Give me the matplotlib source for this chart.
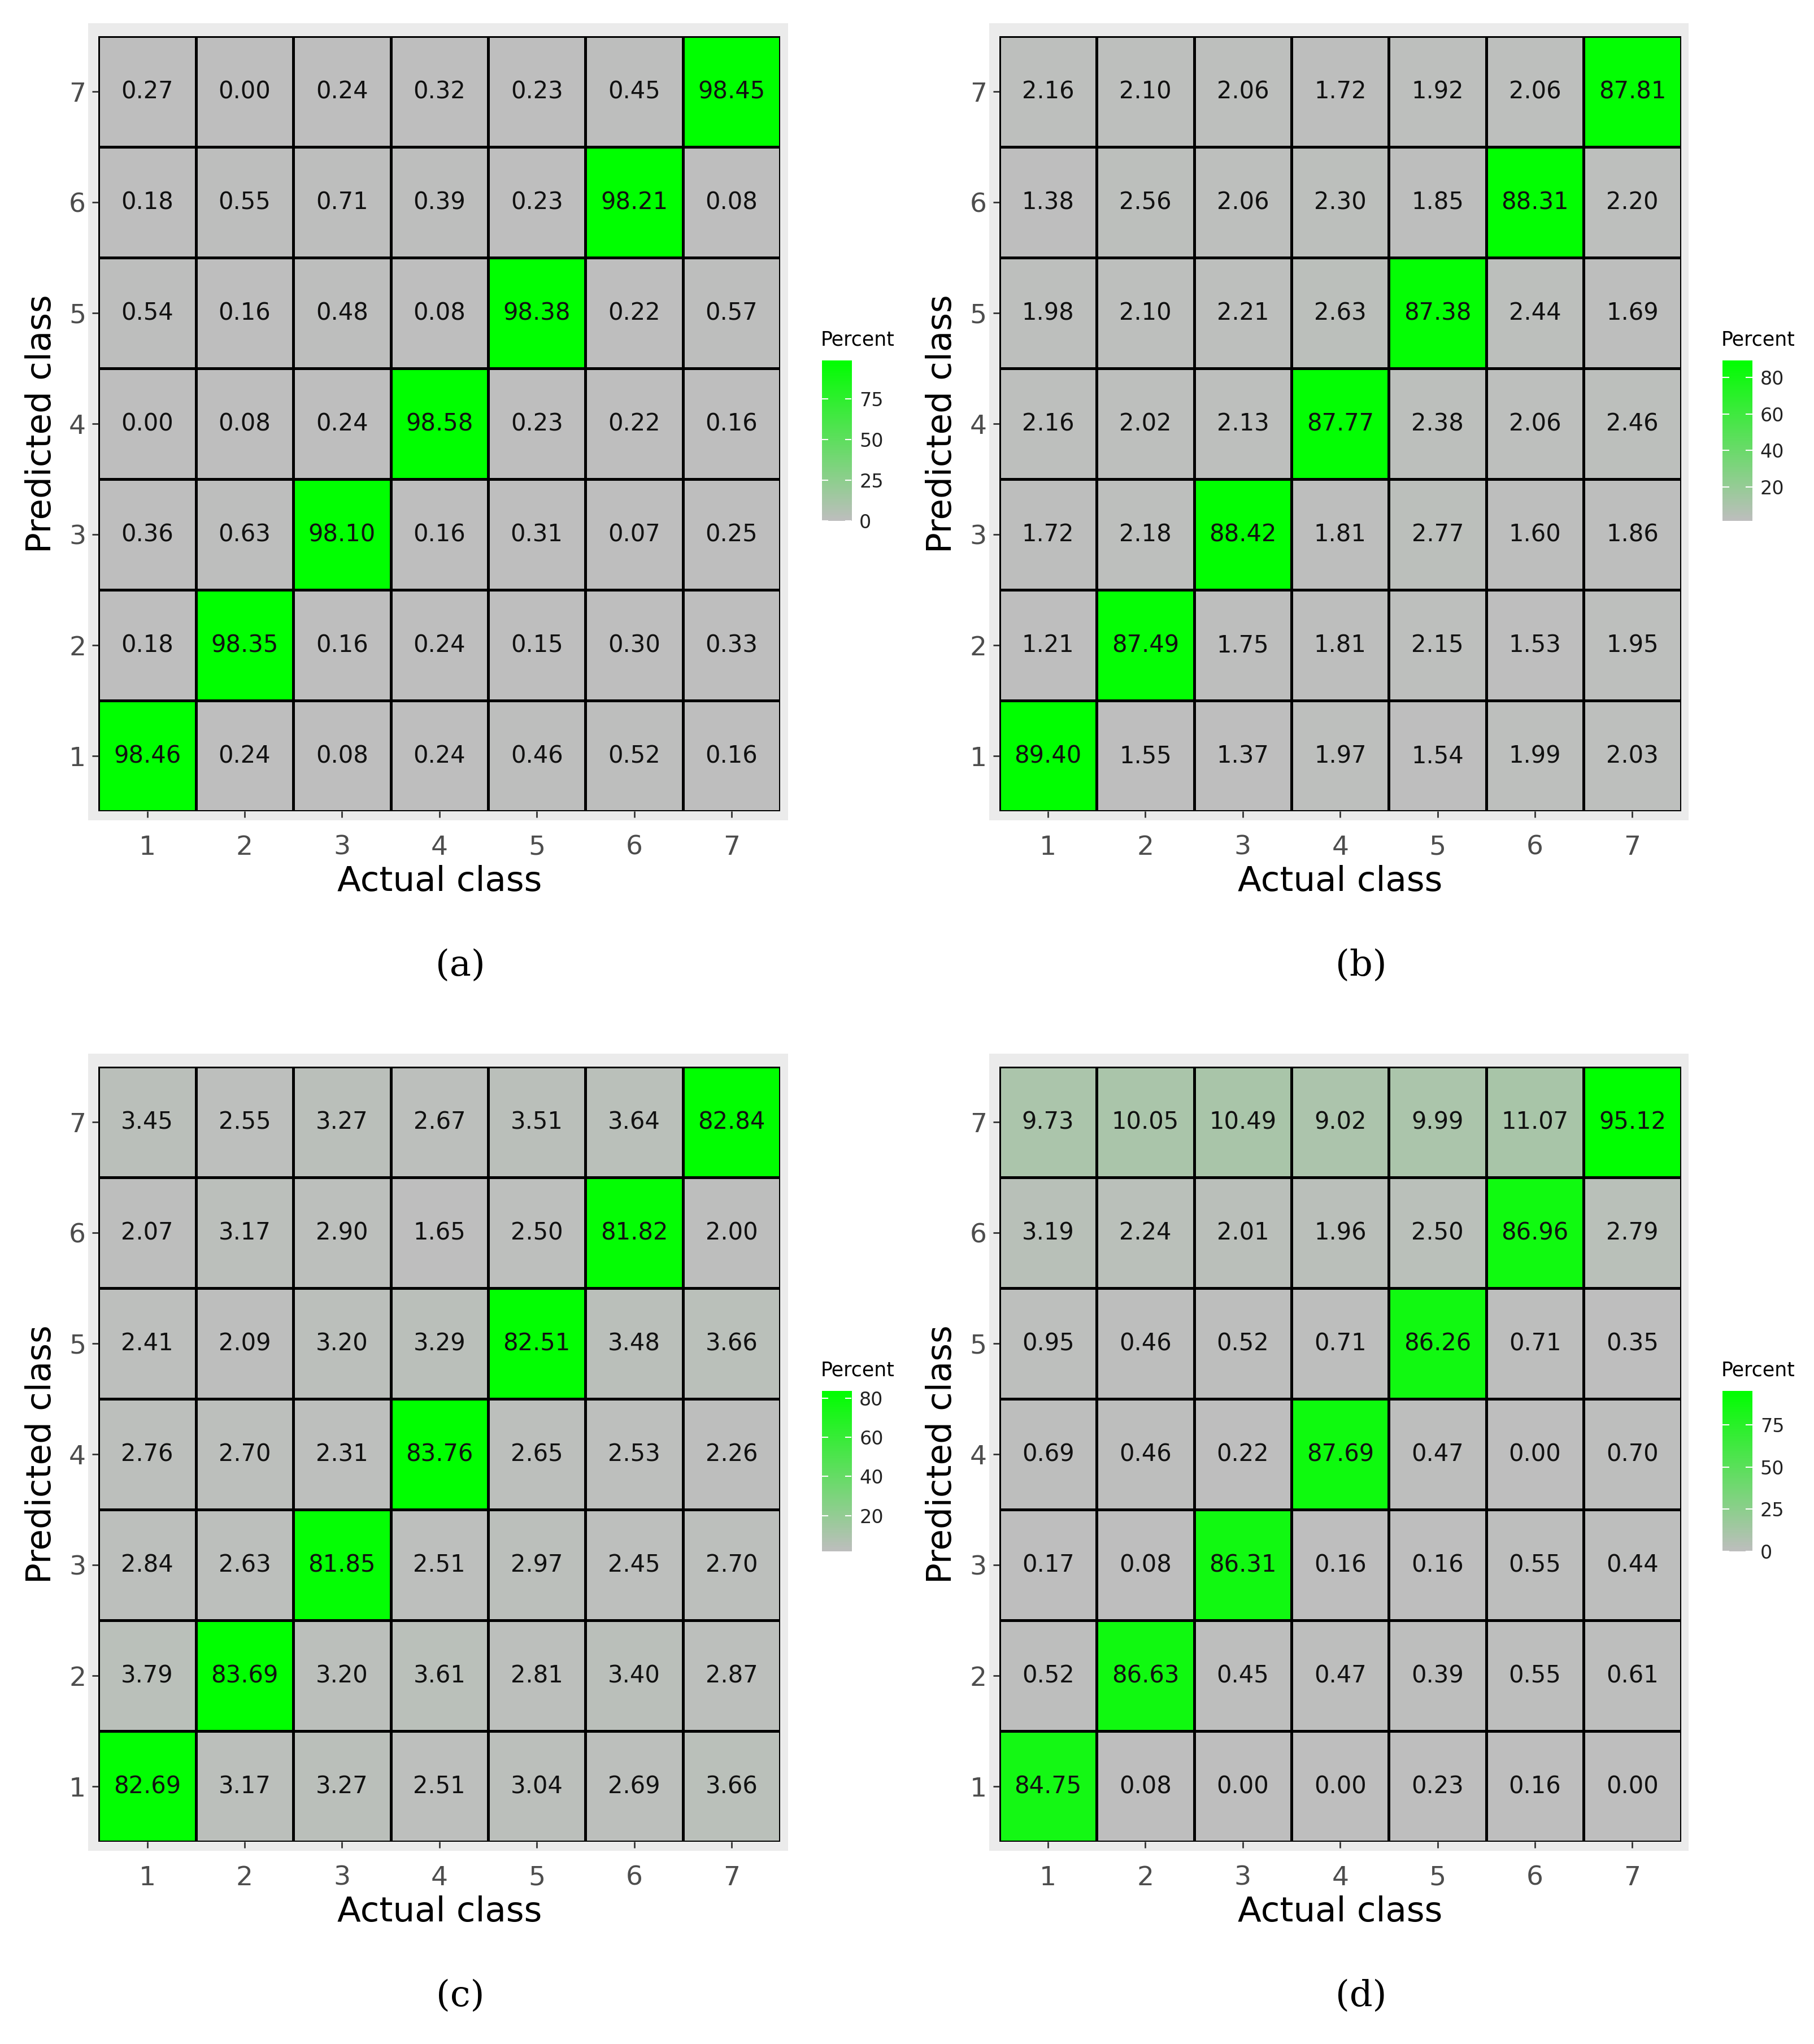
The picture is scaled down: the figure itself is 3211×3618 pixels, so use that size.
import numpy as np
import matplotlib
matplotlib.use("Agg")
import matplotlib.pyplot as plt
from matplotlib.colors import LinearSegmentedColormap

classes = ["1", "2", "3", "4", "5", "6", "7"]
# rows: predicted class 1..7 ; columns: actual class 1..7
mat_a = [
    [98.46, 0.24, 0.08, 0.24, 0.46, 0.52, 0.16],
    [0.18, 98.35, 0.16, 0.24, 0.15, 0.30, 0.33],
    [0.36, 0.63, 98.10, 0.16, 0.31, 0.07, 0.25],
    [0.00, 0.08, 0.24, 98.58, 0.23, 0.22, 0.16],
    [0.54, 0.16, 0.48, 0.08, 98.38, 0.22, 0.57],
    [0.18, 0.55, 0.71, 0.39, 0.23, 98.21, 0.08],
    [0.27, 0.00, 0.24, 0.32, 0.23, 0.45, 98.45],
]
mat_b = [
    [89.40, 1.55, 1.37, 1.97, 1.54, 1.99, 2.03],
    [1.21, 87.49, 1.75, 1.81, 2.15, 1.53, 1.95],
    [1.72, 2.18, 88.42, 1.81, 2.77, 1.60, 1.86],
    [2.16, 2.02, 2.13, 87.77, 2.38, 2.06, 2.46],
    [1.98, 2.10, 2.21, 2.63, 87.38, 2.44, 1.69],
    [1.38, 2.56, 2.06, 2.30, 1.85, 88.31, 2.20],
    [2.16, 2.10, 2.06, 1.72, 1.92, 2.06, 87.81],
]
mat_c = [
    [82.69, 3.17, 3.27, 2.51, 3.04, 2.69, 3.66],
    [3.79, 83.69, 3.20, 3.61, 2.81, 3.40, 2.87],
    [2.84, 2.63, 81.85, 2.51, 2.97, 2.45, 2.70],
    [2.76, 2.70, 2.31, 83.76, 2.65, 2.53, 2.26],
    [2.41, 2.09, 3.20, 3.29, 82.51, 3.48, 3.66],
    [2.07, 3.17, 2.90, 1.65, 2.50, 81.82, 2.00],
    [3.45, 2.55, 3.27, 2.67, 3.51, 3.64, 82.84],
]
mat_d = [
    [84.75, 0.08, 0.00, 0.00, 0.23, 0.16, 0.00],
    [0.52, 86.63, 0.45, 0.47, 0.39, 0.55, 0.61],
    [0.17, 0.08, 86.31, 0.16, 0.16, 0.55, 0.44],
    [0.69, 0.46, 0.22, 87.69, 0.47, 0.00, 0.70],
    [0.95, 0.46, 0.52, 0.71, 86.26, 0.71, 0.35],
    [3.19, 2.24, 2.01, 1.96, 2.50, 86.96, 2.79],
    [9.73, 10.05, 10.49, 9.02, 9.99, 11.07, 95.12],
]
cbar_ticks_a = [0, 25, 50, 75]
cbar_ticks_b = [20, 40, 60, 80]
cbar_ticks_c = [20, 40, 60, 80]
cbar_ticks_d = [0, 25, 50, 75]
captions = ["(a)", "(b)", "(c)", "(d)"]

cmap = LinearSegmentedColormap.from_list("gg", ["#BEBEBE", "#00FF00"])

W, H = 1400.0, 1577.0
fig = plt.figure(figsize=(32.12, 36.18), dpi=100)

def fx(x): return x / W
def fy(y): return 1 - y / H

panels = [(mat_a, cbar_ticks_a, 0, 0), (mat_b, cbar_ticks_b, 695, 0),
          (mat_c, cbar_ticks_c, 0, 795), (mat_d, cbar_ticks_d, 695, 795)]

for i, (m, cticks, dx, dy) in enumerate(panels):
    m = np.array(m)
    vmin, vmax = m.min(), m.max()
    bg = fig.add_axes([fx(68 + dx), fy(633 + dy), 540 / W, 615 / H], zorder=0)
    bg.set_facecolor("#EBEBEB")
    bg.set_xticks([]); bg.set_yticks([])
    for s in bg.spines.values():
        s.set_visible(False)
    ax = fig.add_axes([fx(76 + dx), fy(626 + dy), 526 / W, 598 / H], zorder=1)
    ax.patch.set_alpha(0)
    ax.pcolormesh(np.arange(0.5, 8.5), np.arange(0.5, 8.5), m, cmap=cmap,
                  vmin=vmin, vmax=vmax, edgecolors="black", linewidth=2.5)
    for r in range(7):
        for c in range(7):
            ax.text(c + 1, r + 1, f"{m[r, c]:.2f}", ha="center", va="center",
                    fontsize=30, color="#111111")
    ax.set_xlim(0.5, 7.5); ax.set_ylim(0.5, 7.5)
    ax.set_xticks(range(1, 8)); ax.set_yticks(range(1, 8))
    ax.set_xticklabels(classes); ax.set_yticklabels(classes)
    ax.tick_params(labelsize=34, labelcolor="#4D4D4D", color="#333333",
                   length=8, width=2, pad=8)
    ax.tick_params(axis="x", pad=22)
    for s in ax.spines.values():
        s.set_visible(False)
    ax.set_xlabel("Actual class", fontsize=44, labelpad=6)
    ax.set_ylabel("Predicted class", fontsize=44, labelpad=14)
    cax = fig.add_axes([fx(634 + dx), fy(402 + dy), 23 / W, 124 / H], zorder=1)
    grad = np.linspace(vmin, vmax, 256).reshape(-1, 1)
    cax.imshow(grad, aspect="auto", origin="lower", cmap=cmap,
               extent=[0, 1, vmin, vmax])
    cax.set_xticks([])
    cax.yaxis.tick_right()
    cax.set_yticks(cticks)
    cax.tick_params(axis="y", labelsize=24, length=0, pad=10, labelcolor="#222222")
    for t in cticks:
        cax.plot([0, 0.2], [t, t], color="white", lw=1.5)
        cax.plot([0.8, 1], [t, t], color="white", lw=1.5)
    cax.set_xlim(0, 1); cax.set_ylim(vmin, vmax)
    for s in cax.spines.values():
        s.set_visible(False)
    fig.text(fx(633 + dx), fy(262 + dy), "Percent", fontsize=25, va="center", ha="left")
    fig.text(fx(355 + dx), fy(745 + dy), captions[i], fontsize=46,
             family="DejaVu Serif", ha="center", va="center")

fig.savefig("out.png", dpi=100, facecolor="white")
